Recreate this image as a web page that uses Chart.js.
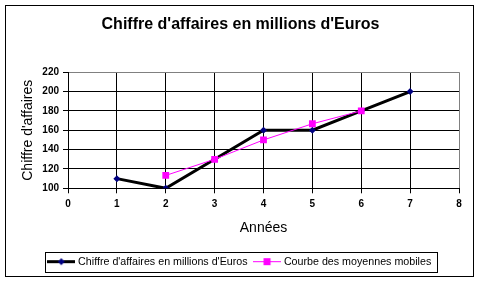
<!DOCTYPE html>
<html>
<head>
<meta charset="utf-8">
<script src="https://cdn.jsdelivr.net/npm/chart.js@4"></script>
<style>
  html, body { margin: 0; padding: 0; background: #fff; }
  #wrap { width: 481px; height: 283px; }
</style>
</head>
<body>
<div id="wrap"><canvas id="c" width="481" height="283"></canvas></div>
<script>
// données
const titre = "Chiffre d'affaires en millions d'Euros";
const nomSerie1 = "Chiffre d'affaires en millions d'Euros";
const nomSerie2 = "Courbe des moyennes mobiles";
const annees = [1, 2, 3, 4, 5, 6, 7];
const chiffreAffaires = [110, 100, 130, 160, 160, 180, 200];
const anneesMM = [2, 3, 4, 5, 6];
const moyennesMobiles = [113.3, 130, 150, 166.7, 180];
const xMin = 0, xMax = 8, xPas = 1;
const yMin = 100, yMax = 220, yPas = 20;

const POLICE = "'Liberation Sans', Arial, sans-serif";
const GRIS = "#808080";

// petit dessin de légende : trait + marqueur
function iconeLegende(couleurTrait, epaisseur, marqueur, couleurMarqueur) {
    const cv = document.createElement("canvas");
    cv.width = 28; cv.height = 11;
    const g = cv.getContext("2d");
    g.strokeStyle = couleurTrait;
    g.lineWidth = epaisseur;
    g.beginPath(); g.moveTo(0, 5.5); g.lineTo(28, 5.5); g.stroke();
    g.fillStyle = couleurMarqueur;
    if (marqueur === "losange") {
        g.beginPath(); g.moveTo(14, 2); g.lineTo(17.5, 5.5); g.lineTo(14, 9); g.lineTo(10.5, 5.5); g.closePath(); g.fill();
    } else {
        g.fillRect(10.5, 2, 7, 7);
    }
    return cv;
}

const cadres = {
    id: "cadres",
    afterDraw(chart) {
        const ctx = chart.ctx;
        ctx.save();
        ctx.strokeStyle = "#000";
        ctx.lineWidth = 1;
        ctx.strokeRect(5.5, 5.5, 468, 271);
        const hb = chart.legend.legendHitBoxes;
        if (hb && hb.length) {
            const g = Math.round(hb[0].left) - 5;
            const d = Math.round(hb[hb.length - 1].left + hb[hb.length - 1].width) + 6;
            const h = Math.round(hb[0].top) - 4;
            ctx.strokeRect(g + 0.5, h + 0.5, d - g, 20);
        }
        ctx.restore();
    }
};

new Chart(document.getElementById("c"), {
    type: "scatter",
    data: {
        datasets: [
            {
                label: nomSerie1,
                data: annees.map((x, i) => ({ x, y: chiffreAffaires[i] })),
                showLine: true,
                borderColor: "#000",
                borderWidth: 3,
                pointStyle: "rectRot",
                pointRadius: 3.5,
                pointBackgroundColor: "#000080",
                pointBorderColor: "#000080",
                pointBorderWidth: 0,
                order: 2,
                legendIcon: iconeLegende("#000", 3, "losange", "#000080")
            },
            {
                label: nomSerie2,
                data: anneesMM.map((x, i) => ({ x, y: moyennesMobiles[i] })),
                showLine: true,
                borderColor: "#ff00ff",
                borderWidth: 1,
                pointStyle: "rect",
                pointRadius: 4.8,
                pointBackgroundColor: "#ff00ff",
                pointBorderColor: "#ff00ff",
                pointBorderWidth: 0,
                order: 1,
                legendIcon: iconeLegende("#ff00ff", 1, "carre", "#ff00ff")
            }
        ]
    },
    options: {
        responsive: false,
        animation: false,
        layout: { padding: { left: 5, right: 5, top: 5, bottom: 6 } },
        plugins: {
            title: {
                display: true,
                text: titre,
                color: "#000",
                font: { family: POLICE, size: 16, weight: "bold" },
                padding: { top: 10, bottom: 38 }
            },
            legend: {
                position: "bottom",
                labels: {
                    color: "#000",
                    font: { family: POLICE, size: 10.7 },
                    usePointStyle: true,
                    pointStyleWidth: 23,
                    padding: 8,
                    sort: (a, b) => a.datasetIndex - b.datasetIndex,
                    generateLabels(chart) {
                        return chart.data.datasets.map((ds, i) => ({
                            text: ds.label,
                            pointStyle: ds.legendIcon,
                            fontColor: "#000",
                            datasetIndex: i,
                            lineWidth: 0,
                            hidden: false
                        }));
                    }
                }
            },
            tooltip: { enabled: false }
        },
        scales: {
            x: {
                type: "linear",
                min: xMin, max: xMax,
                afterFit(s) { s.height = 60; },
                ticks: { stepSize: xPas, color: "#000", padding: 5, font: { family: POLICE, size: 10, weight: "bold" } },
                grid: {
                    color: c => (c.tick && c.tick.value === xMax ? GRIS : "#000"),
                    tickColor: "#000",
                    tickLength: 5,
                    lineWidth: 1
                },
                border: { display: true, color: "#000" },
                title: {
                    display: true, text: "Années", color: "#000",
                    font: { family: POLICE, size: 14 },
                    padding: { top: 0, bottom: 12 }
                }
            },
            y: {
                min: yMin, max: yMax,
                afterFit(s) { s.width = 63; },
                ticks: { stepSize: yPas, color: "#000", padding: 4, font: { family: POLICE, size: 10, weight: "bold" } },
                grid: {
                    color: c => (c.tick && c.tick.value === yMax ? GRIS : "#000"),
                    tickColor: "#000",
                    tickLength: 5,
                    lineWidth: 1
                },
                border: { display: true, color: "#000" },
                title: {
                    display: true, text: "Chiffre d'affaires", color: "#000",
                    font: { family: POLICE, size: 14 },
                    padding: { top: 15, bottom: 0 }
                }
            },
            marge: {
                type: "linear",
                position: "right",
                display: true,
                afterFit(s) { s.width = 17; },
                ticks: { display: false },
                grid: { display: false, drawTicks: false },
                border: { display: false }
            }
        }
    },
    plugins: [cadres]
});
</script>
</body>
</html>
